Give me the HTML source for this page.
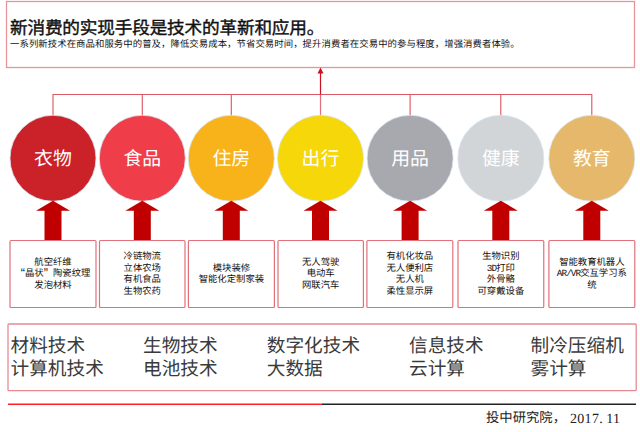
<!DOCTYPE html>
<html lang="zh-CN"><head><meta charset="utf-8">
<style>
html,body{margin:0;padding:0;background:#fff;}
body{width:640px;height:432px;position:relative;overflow:hidden;text-rendering:geometricPrecision;font-family:"Liberation Sans",sans-serif;}
.t{position:absolute;white-space:nowrap;}
.serif{font-family:"Liberation Serif",serif;}
#title{left:10px;top:18px;font-size:17.66px;letter-spacing:-0.2px;font-weight:normal;-webkit-text-stroke:0.4px #111;color:#111;line-height:20px;}
#sub{left:10px;top:38px;font-size:9.37px;letter-spacing:0.08px;color:#111;line-height:12px;}
.cl{position:absolute;top:147.7px;width:86px;text-align:center;color:#fff;font-size:18.9px;line-height:24px;font-family:"Liberation Serif",serif;}
.bx{position:absolute;top:240.7px;height:67px;width:86px;display:flex;align-items:center;justify-content:center;text-align:center;font-size:9.35px;line-height:11.5px;color:#111;}
.bt{position:absolute;font-family:"Liberation Serif",serif;font-size:18.67px;line-height:22.4px;color:#3a3a3a;top:336.2px;white-space:nowrap;}
.ql{display:inline-block;width:9.35px;text-align:right;font-size:1.35em;line-height:0;vertical-align:-1px;}
.qr{display:inline-block;width:9.35px;text-align:left;font-size:1.35em;line-height:0;vertical-align:-1px;}
#dg{left:570px;top:411.5px;font-size:14px;letter-spacing:0.3px;line-height:16px;color:#222;font-family:"Liberation Serif",serif;}
.mn{font-family:"Liberation Mono",monospace;letter-spacing:-0.94px;}
#foot{left:486px;top:410px;font-size:13.33px;line-height:16px;color:#222;font-family:"Liberation Serif",serif;}
</style></head><body>
<svg width="640" height="432" style="position:absolute;left:0;top:0">
  <!-- top box -->
  <rect x="6.5" y="1.5" width="628" height="66" fill="none" stroke="#e8949a" stroke-width="1.3"/>
  <!-- connectors -->
  <path d="M53 116 V94.5 H591.8 V116 M142.3 94.5 V116 M231.3 94.5 V116 M410.1 94.5 V116 M500.8 94.5 V116" fill="none" stroke="#dc5a66" stroke-width="1.15"/>
  <line x1="320.5" y1="116" x2="320.5" y2="94.5" stroke="#e0707a" stroke-width="1.2"/>
  <line x1="320.5" y1="94.5" x2="320.5" y2="72" stroke="#cc1020" stroke-width="1.2"/>
  <path d="M317.5 73.5 L320.5 67.5 L323.5 73.5 Z" fill="#cc1020"/>
  <!-- circles -->
  <g stroke="#d6e4f0" stroke-width="0.8">
  <circle cx="53" cy="158.3" r="43" fill="#cb2129"/>
  <circle cx="142.3" cy="158.3" r="43" fill="#ef3d4a"/>
  <circle cx="231.3" cy="158.3" r="43" fill="#f8b21a"/>
  <circle cx="320.5" cy="158.3" r="43" fill="#f6d70a"/>
  <circle cx="410.1" cy="158.3" r="43" fill="#a8a9ae"/>
  <circle cx="500.8" cy="158.3" r="43" fill="#d1d5d8"/>
  <circle cx="591.8" cy="158.3" r="43" fill="#e6b86c"/>
  </g>
  <!-- up arrows -->
  <g fill="#c00000">
  <path id="ar" d="M0 0 L17 10 L8.5 10 L8.5 39.5 L-8.5 39.5 L-8.5 10 L-17 10 Z" transform="translate(53 200.7)"/>
  <use href="#ar" x="89.3"/>
  <use href="#ar" x="178.3"/>
  <use href="#ar" x="267.5"/>
  <use href="#ar" x="357.1"/>
  <use href="#ar" x="447.8"/>
  <use href="#ar" x="538.8"/>
  </g>
  <!-- boxes -->
  <g fill="none" stroke="#e0707a" stroke-width="1.2">
  <rect x="10" y="240.5" width="86" height="67" rx="1"/>
  <rect x="99.5" y="240.5" width="85.5" height="67" rx="1"/>
  <rect x="188.4" y="240.5" width="86" height="67" rx="1"/>
  <rect x="278" y="240.5" width="85.4" height="67" rx="1"/>
  <rect x="366.9" y="240.5" width="85.9" height="67" rx="1"/>
  <rect x="458" y="240.5" width="85.75" height="67" rx="1"/>
  <rect x="548.9" y="240.5" width="85.9" height="67" rx="1"/>
  </g>
  <!-- bottom box -->
  <rect x="8" y="324" width="628.2" height="66.7" fill="none" stroke="#e58a92" stroke-width="1.3" rx="1"/>
  <!-- footer line -->
  <line x1="8" y1="404.3" x2="322" y2="404.3" stroke="#ff2026" stroke-width="1.4"/>
  <line x1="322" y1="404.3" x2="636" y2="404.3" stroke="#222" stroke-width="1.4"/>
</svg>
<div class="t serif" id="title">新消费的实现手段是技术的革新和应用。</div>
<div class="t" id="sub">一系列新技术在商品和服务中的普及，降低交易成本，节省交易时间，提升消费者在交易中的参与程度，增强消费者体验。</div>

<div class="cl" style="left:10px">衣物</div>
<div class="cl" style="left:99.3px">食品</div>
<div class="cl" style="left:188.3px">住房</div>
<div class="cl" style="left:277.5px">出行</div>
<div class="cl" style="left:367.1px">用品</div>
<div class="cl" style="left:457.8px">健康</div>
<div class="cl" style="left:548.8px">教育</div>

<div class="bx" style="left:10px;width:86px"><div>航空纤维<br><span class="ql">“</span>晶状<span class="qr">”</span>陶瓷纹理<br>发泡材料</div></div>
<div class="bx" style="left:99.5px;width:85.5px"><div>冷链物流<br>立体农场<br>有机食品<br>生物农药</div></div>
<div class="bx" style="left:188.4px;width:86px"><div>模块装修<br>智能化定制家装</div></div>
<div class="bx" style="left:278px;width:85.4px"><div>无人驾驶<br>电动车<br>网联汽车</div></div>
<div class="bx" style="left:366.9px;width:85.9px"><div>有机化妆品<br>无人便利店<br>无人机<br>柔性显示屏</div></div>
<div class="bx" style="left:458px;width:85.75px"><div>生物识别<br><span class="mn">3D</span>打印<br>外骨骼<br>可穿戴设备</div></div>
<div class="bx" style="left:548.9px;width:85.9px"><div>智能教育机器人<br><span class="mn">AR/VR</span>交互学习系<br>统</div></div>

<div class="bt" style="left:10.5px">材料技术<br>计算机技术</div>
<div class="bt" style="left:143px">生物技术<br>电池技术</div>
<div class="bt" style="left:266.8px">数字化技术<br>大数据</div>
<div class="bt" style="left:409px">信息技术<br>云计算</div>
<div class="bt" style="left:530.5px">制冷压缩机<br>雾计算</div>

<div class="t" id="foot">投中研究院，</div>
<div class="t" id="dg">2017<span style="display:inline-block;width:7px">.</span>11</div>
</body></html>
